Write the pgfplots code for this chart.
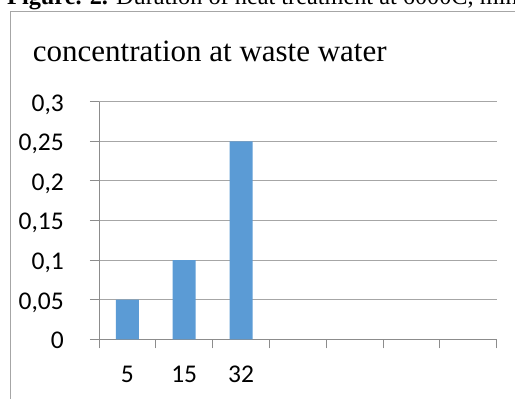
\documentclass[border=0pt]{standalone}
\usepackage{fontspec}
\usepackage{pgfplots}
\pgfplotsset{compat=1.18}
\setmainfont{Liberation Serif}
\newfontfamily\calib{Carlito}
\definecolor{barblue}{HTML}{5B9BD5}
\definecolor{gridgray}{HTML}{A6A6A6}
\definecolor{axgray}{HTML}{8C8C8C}
\begin{document}
\begin{tikzpicture}
\useasboundingbox (0,0) rectangle (515pt,399pt);
\clip (0,0) rectangle (515pt,399pt);
% caption of the page, cut by the top edge
\node[anchor=base west, inner sep=0pt] at (7pt,394pt)
  {\fontsize{24.3}{28}\selectfont\textbf{Figure. 2.} Duration of heat treatment at 6000C, min};
% chart frame
\draw[gridgray, line width=1.3pt] (10.5pt,-5pt) -- (10.5pt,387.5pt) -- (530pt,387.5pt);
% chart title
\node[anchor=base west, inner sep=0pt] at (32.7pt,337.8pt)
  {\fontsize{31}{36}\selectfont concentration at waste water};
\begin{axis}[
  at={(99pt,59.7pt)}, anchor=south west,
  scale only axis, width=397.7pt, height=237.6pt,
  xmin=0, xmax=7, ymin=0, ymax=0.3,
  axis x line*=bottom, axis y line*=left,
  axis line style={axgray, line width=0.9pt, -},
  xtick={0,1,...,7},
  xticklabels={5,15,32,,,,},
  x tick label as interval,
  ytick={0,0.05,0.1,0.15,0.2,0.25,0.3},
  yticklabels={0,{0,05},{0,1},{0,15},{0,2},{0,25},{0,3}},
  ymajorgrids,
  grid style={gridgray, line width=0.9pt},
  tick align=outside, major tick length=9pt,
  tick style={axgray, line width=0.9pt},
  tick label style={font=\calib\fontsize{25.5}{30}\selectfont, inner sep=0pt},
  yticklabel style={anchor=base east, xshift=-26pt, yshift=-9.5pt},
  xticklabel style={anchor=base, yshift=-34pt},
]
\addplot[ybar, bar width=23pt, fill=barblue, draw=none]
  coordinates {(0.5,0.05) (1.5,0.1) (2.5,0.25)};
\end{axis}
\end{tikzpicture}
\end{document}
